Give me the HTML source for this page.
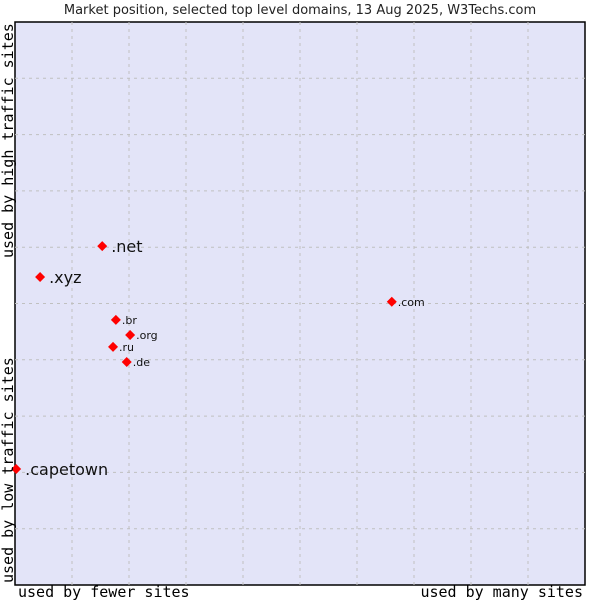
<!DOCTYPE html>
<html><head><meta charset="utf-8"><style>
body{margin:0;background:#fff;}
svg{display:block;font-family:"DejaVu Sans","Liberation Sans",sans-serif;}
</style></head><body>
<svg width="600" height="600">
<text x="300" y="14" text-anchor="middle" font-size="13" fill="#222">Market position, selected top level domains, 13 Aug 2025, W3Techs.com</text>
<rect x="15" y="22" width="570" height="563" fill="#e3e4f8" stroke="#000" stroke-width="1.5"/>
<g id="grid"></g>
<g id="pts"></g>
<text x="18" y="597" font-family="'DejaVu Sans Mono',monospace" font-size="15" fill="#000">used by fewer sites</text>
<text x="583" y="597" text-anchor="end" font-family="'DejaVu Sans Mono',monospace" font-size="15" fill="#000">used by many sites</text>
<text transform="translate(13,583) rotate(-90)" font-family="'DejaVu Sans Mono',monospace" font-size="15" fill="#000">used by low traffic sites</text>
<text transform="translate(13,258) rotate(-90)" font-family="'DejaVu Sans Mono',monospace" font-size="15" fill="#000">used by high traffic sites</text>
</svg>
<script>
const labels=[".capetown",".xyz",".net",".com",".br",".org",".ru",".de"];
const xVals=[0.2,4.4,15.3,66.1,17.7,20.2,17.2,19.6];
const yVals=[20.6,54.7,60.2,50.3,47.1,44.4,42.3,39.6];
const bigLabel=[true,true,true,false,false,false,false,false];
const L=15,T=22,W=570,H=563;
const sx=v=>L+v/100*W, sy=v=>T+H-v/100*H;
const NS="http://www.w3.org/2000/svg";
const g=document.getElementById('grid');
for(let i=1;i<10;i++){
 const lx=document.createElementNS(NS,'line');
 
 
 lx.setAttribute('x1',sx(i*10));lx.setAttribute('x2',sx(i*10));lx.setAttribute('y1',T);lx.setAttribute('y2',T+H);
 lx.setAttribute('stroke','#c0c0c0');lx.setAttribute('stroke-dasharray','3,4');g.appendChild(lx);
 const ly=document.createElementNS(NS,'line');
 
 
 ly.setAttribute('y1',sy(i*10));ly.setAttribute('y2',sy(i*10));ly.setAttribute('x1',L);ly.setAttribute('x2',L+W);
 ly.setAttribute('stroke','#c0c0c0');ly.setAttribute('stroke-dasharray','3,4');g.appendChild(ly);
}
const p=document.getElementById('pts');
labels.forEach((lab,i)=>{
 const x=sx(xVals[i]),y=sy(yVals[i]);
 const d=document.createElementNS(NS,'polygon');
 
 
 d.setAttribute('points',`${x},${y-5} ${x+5},${y} ${x},${y+5} ${x-5},${y}`);
 d.setAttribute('fill','#f00');p.appendChild(d);
 const t=document.createElementNS(NS,'text');
 
 
 const big=bigLabel[i];
 t.setAttribute('x',x+(big?9:6));t.setAttribute('y',y+(big?6:4));
 t.setAttribute('font-size',big?16:11);t.setAttribute('fill','#111');
 t.textContent=lab;p.appendChild(t);
});
</script>
</body></html>
